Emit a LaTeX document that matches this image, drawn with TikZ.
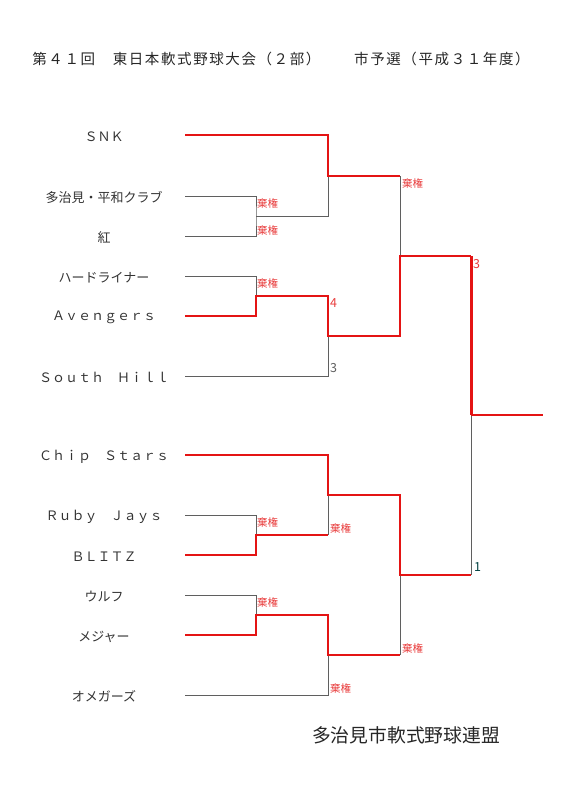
\documentclass[tikz,border=0pt]{standalone}
\usepackage{fontspec}
\usepackage{tikz}
\newfontfamily\jp{Noto Sans CJK JP}
\newfontfamily\jptitle[LetterSpace=11]{Noto Sans CJK JP}
\definecolor{winred}{RGB}{228,20,20}
\definecolor{lblred}{RGB}{232,60,60}
\definecolor{linegray}{RGB}{95,95,95}
\tikzset{
  team/.style={font=\jp\fontsize{13}{15}\selectfont, text=black!80, inner sep=0pt, yshift=-1.5pt},
  lose/.style={draw=linegray, line width=1pt},
  win/.style={draw=winred, line width=2pt},
  champ/.style={draw=winred, line width=3pt},
  kiken/.style={font=\jp\fontsize{10.5}{12}\selectfont, text=lblred, anchor=west, inner sep=0pt},
  score/.style={font=\jp\fontsize{12.5}{14}\selectfont, anchor=west, inner sep=0pt}
}
\begin{document}
\begin{tikzpicture}[x=1pt,y=-1pt]
  \useasboundingbox (0,0) rectangle (566,800);
  \node[font=\jptitle\fontsize{14.5}{16}\selectfont, text=black!85] (title) at (281,58.5)
    {第４１回　東日本軟式野球大会（２部）　　市予選（平成３１年度）};

  % teams
  \node[team] (n1) at (104,135) {ＳＮＫ};
  \node[team] (n2) at (104,196) {多治見・平和クラブ};
  \node[team] (n3) at (104,236) {紅};
  \node[team] (n4) at (104,276) {ハードライナー};
  \node[team] (n5) at (104,316) {Ａｖｅｎｇｅｒｓ};
  \node[team] (n6) at (104,376) {Ｓｏｕｔｈ　Ｈｉｌｌ};
  \node[team] (n7) at (104,455) {Ｃｈｉｐ　Ｓｔａｒｓ};
  \node[team] (n8) at (104,515) {Ｒｕｂｙ　Ｊａｙｓ};
  \node[team] (n9) at (104,555) {ＢＬＩＴＺ};
  \node[team] (n10) at (104,595) {ウルフ};
  \node[team] (n11) at (104,635) {メジャー};
  \node[team] (n12) at (104,695) {オメガーズ};
  \foreach \y [count=\i] in {135,196,236,276,316,376,455,515,555,595,635,695}
    \coordinate (e\i) at (185,\y);

  % joints
  \coordinate (q1) at (256,216);
  \coordinate (q2) at (256,296);
  \coordinate (q3) at (256,535);
  \coordinate (q4) at (256,615);
  \coordinate (h1) at (328,176);
  \coordinate (h2) at (328,336);
  \coordinate (h3) at (328,495);
  \coordinate (h4) at (328,655);
  \coordinate (f1) at (400,256);
  \coordinate (f2) at (400,575);
  \coordinate (c) at (471,415);
  \coordinate (w) at (543,415);

  % losing lines
  \draw[lose] (e2) -| (q1) |- (e3);
  \draw[lose] (q1) -| (h1);
  \draw[lose] (h1 -| f1) -- (f1);
  \draw[lose] (e4) -| (q2);
  \draw[lose] (e6) -| (h2);
  \draw[lose] (e8) -| (q3);
  \draw[lose] (q3 -| h3) -- (h3);
  \draw[lose] (f2 -| c) -- (c);
  \draw[lose] (e10) -| (q4);
  \draw[lose] (h4 -| f2) -- (f2);
  \draw[lose] (e12) -| (h4);

  % winning lines
  \draw[win] (e1) -| (h1) -- (h1 -| f1);
  \draw[win] (e5) -| (q2) -| (h2) -| (f1) -- (f1 -| c);
  \draw[champ] (f1 -| c) -- (c);
  \draw[win] (c) -- (w);
  \draw[win] (e9) -| (q3) -- (q3 -| h3);
  \draw[win] (e7) -| (h3) -| (f2) -- (f2 -| c);
  \draw[win] (e11) -| (q4) -| (h4) -- (h4 -| f2);

  % results
  \node[kiken] (k1) at (257,203) {棄権};
  \node[kiken] (k2) at (257,230) {棄権};
  \node[kiken] (k3) at (257,283) {棄権};
  \node[kiken] (k4) at (257,522) {棄権};
  \node[kiken] (k5) at (257,602) {棄権};
  \node[kiken] (k6) at (330,528) {棄権};
  \node[kiken] (k7) at (330,688) {棄権};
  \node[kiken] (k8) at (402,183) {棄権};
  \node[kiken] (k9) at (402,648) {棄権};
  \node[score, text=lblred] (s1) at (330,303) {4};
  \node[score, text=linegray] (s2) at (330,368) {3};
  \node[score, text=lblred] (s3) at (473,264) {3};
  \node[score, text=black!50!teal] (s4) at (474,567) {1};

  \node[font=\jp\fontsize{18.8}{21}\selectfont, text=black!85] (org) at (406,735) {多治見市軟式野球連盟};
\end{tikzpicture}
\end{document}
